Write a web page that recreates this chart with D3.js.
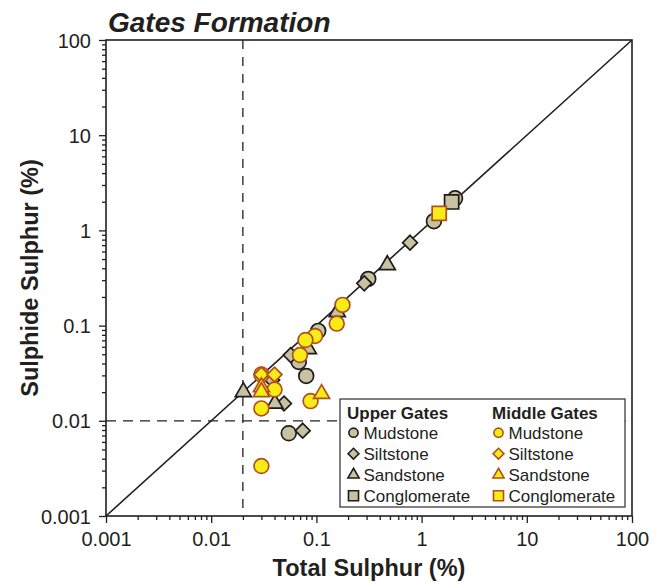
<!DOCTYPE html>
<html>
<head>
<meta charset="utf-8">
<script src="https://cdn.jsdelivr.net/npm/d3@7/dist/d3.min.js"></script>
<style>
  html, body { margin: 0; padding: 0; background: #fff; }
  svg { display: block; font-family: "Liberation Sans", Arial, Helvetica, sans-serif; }
</style>
</head>
<body>
<svg id="chart" width="656" height="583"></svg>
<script>
// Total sulphur vs sulphide sulphur, each sample as [total %, sulphide %]
const upperMudstone = [[2.08, 2.17], [1.31, 1.25], [0.311, 0.309], [0.104, 0.088], [0.068, 0.0415], [0.08, 0.0296], [0.0546, 0.0074]];
const upperSiltstone = [[0.776, 0.743], [0.285, 0.278], [0.057, 0.049], [0.038, 0.0268], [0.0492, 0.0152], [0.0741, 0.00787]];
const upperSandstone = [[0.472, 0.433], [0.158, 0.139], [0.0838, 0.0568], [0.0202, 0.0201], [0.0403, 0.0152]];
const upperConglomerate = [[1.93, 1.99]];

const middleMudstone = [[0.177, 0.165], [0.156, 0.105], [0.097, 0.0778], [0.0787, 0.0706], [0.0698, 0.0491], [0.03, 0.0306], [0.04, 0.0213], [0.03, 0.0135], [0.088, 0.0161], [0.03, 0.00335]];
const middleSiltstone = [[0.03, 0.0306], [0.04, 0.0306]];
const middleSandstone = [[0.03, 0.0226], [0.03, 0.0201], [0.112, 0.0192]];
const middleConglomerate = [[1.47, 1.51]];

const majorTicks = [0.001, 0.01, 0.1, 1, 10, 100];
const tickLabels = ["0.001", "0.01", "0.1", "1", "10", "100"];
const lithologies = ["Mudstone", "Siltstone", "Sandstone", "Conglomerate"];
const groups = ["Upper Gates", "Middle Gates"];
const detectionTotal = 0.02;
const detectionSulphide = 0.01;

const ink = "#231f20";
const groupStyle = {
  "Upper Gates": { fill: "#c8c1a2", stroke: "#1e1c1a" },
  "Middle Gates": { fill: "#f8ec16", stroke: "#b0501c" }
};
const seriesByGroup = {
  "Upper Gates": [upperMudstone, upperSiltstone, upperSandstone, upperConglomerate],
  "Middle Gates": [middleMudstone, middleSiltstone, middleSandstone, middleConglomerate]
};

const svg = d3.select("#chart");
const plot = { left: 106, right: 632, top: 40, bottom: 516 };

const x = d3.scaleLog().domain([0.001, 100]).range([plot.left, plot.right]);
const y = d3.scaleLog().domain([0.001, 100]).range([plot.bottom, plot.top]);

// marker path for a lithology, r = nominal half-width
function markerPath(lith, r) {
  if (lith === "Mudstone") return d3.symbol(d3.symbolCircle, Math.PI * r * r)();
  if (lith === "Siltstone") {
    const s = r; // half diagonal
    return `M0,${-s}L${s},0L0,${s}L${-s},0Z`;
  }
  if (lith === "Sandstone") {
    const w = r; // half width
    const k = w / Math.sqrt(3);
    return `M0,${-2 * k}L${w},${k}L${-w},${k}Z`;
  }
  const h = r * 0.93;
  return `M${-h},${-h}H${h}V${h}H${-h}Z`;
}

// all ticks 1..9 within each decade
const allTicks = [];
for (let e = -3; e <= 2; e++) {
  for (let m = 1; m <= 9; m++) {
    const v = +(m * Math.pow(10, e)).toPrecision(3);
    if (v <= 100) allTicks.push(v);
  }
}
const isMajor = v => majorTicks.some(t => Math.abs(t - v) / t < 1e-6);
const labelFor = v => tickLabels[majorTicks.findIndex(t => Math.abs(t - v) / t < 1e-6)];

// x axis
const xAxis = svg.append("g")
  .attr("transform", `translate(0,${plot.bottom})`)
  .call(d3.axisBottom(x).tickValues(allTicks).tickSizeOuter(0).tickSize(4)
    .tickFormat(d => isMajor(d) ? labelFor(d) : ""));
xAxis.select(".domain").remove();
xAxis.selectAll(".tick line").attr("stroke", ink).attr("stroke-width", 1.3)
  .attr("y2", d => isMajor(d) ? 7 : 4);
xAxis.selectAll(".tick text").attr("fill", ink).attr("font-size", 20)
  .attr("font-family", "Liberation Sans, Arial, sans-serif")
  .attr("y", 29.7).attr("dy", null);

// y axis
const yAxis = svg.append("g")
  .attr("transform", `translate(${plot.left},0)`)
  .call(d3.axisLeft(y).tickValues(allTicks).tickSizeOuter(0).tickSize(4)
    .tickFormat(d => isMajor(d) ? labelFor(d) : ""));
yAxis.select(".domain").remove();
yAxis.selectAll(".tick line").attr("stroke", ink).attr("stroke-width", 1.3)
  .attr("x2", d => isMajor(d) ? -7 : -4);
yAxis.selectAll(".tick text").attr("fill", ink).attr("font-size", 20)
  .attr("font-family", "Liberation Sans, Arial, sans-serif")
  .attr("x", -15).attr("dy", "0.35em");

// dashed detection limits
svg.append("line")
  .attr("x1", x(detectionTotal)).attr("x2", x(detectionTotal))
  .attr("y1", plot.top).attr("y2", plot.bottom)
  .attr("stroke", ink).attr("stroke-width", 1.3).attr("stroke-dasharray", "9,8");
svg.append("line")
  .attr("x1", plot.left).attr("x2", plot.right)
  .attr("y1", y(detectionSulphide)).attr("y2", y(detectionSulphide))
  .attr("stroke", ink).attr("stroke-width", 1.3).attr("stroke-dasharray", "10,7");

// 1:1 line
svg.append("line")
  .attr("x1", x(0.001)).attr("y1", y(0.001))
  .attr("x2", x(100)).attr("y2", y(100))
  .attr("stroke", ink).attr("stroke-width", 1.6);

// plot frame
svg.append("rect")
  .attr("x", plot.left).attr("y", plot.top)
  .attr("width", plot.right - plot.left).attr("height", plot.bottom - plot.top)
  .attr("fill", "none").attr("stroke", ink).attr("stroke-width", 1.6);

// sample markers: Upper Gates beneath, Middle Gates above
const markerSize = { Mudstone: 7.4, Siltstone: 7.4, Sandstone: 8, Conglomerate: 7.6 };
groups.forEach(g => {
  const st = groupStyle[g];
  seriesByGroup[g].forEach((series, i) => {
    const lith = lithologies[i];
    svg.append("g").selectAll("path").data(series).join("path")
      .attr("d", markerPath(lith, markerSize[lith]))
      .attr("transform", d => `translate(${x(d[0])},${y(d[1])})`)
      .attr("fill", st.fill).attr("stroke", st.stroke).attr("stroke-width", 1.7);
  });
});

// legend
const legend = svg.append("g");
legend.append("rect")
  .attr("x", 340).attr("y", 399).attr("width", 285).attr("height", 108)
  .attr("fill", "#fff").attr("stroke", "#4a4a4a").attr("stroke-width", 1.4);
const colX = { "Upper Gates": 347, "Middle Gates": 492 };
const rowY = [439, 460, 481, 502];
groups.forEach(g => {
  const st = groupStyle[g];
  legend.append("text")
    .attr("x", colX[g]).attr("y", 419)
    .attr("font-size", 17).attr("font-weight", "bold").attr("fill", ink)
    .text(g);
  lithologies.forEach((lith, i) => {
    const sz = { Mudstone: 4.6, Siltstone: 5.4, Sandstone: 5.6, Conglomerate: 5.4 }[lith];
    legend.append("path")
      .attr("d", markerPath(lith, sz))
      .attr("transform", `translate(${colX[g] + 6.5},${rowY[i] - 6.3})`)
      .attr("fill", st.fill).attr("stroke", st.stroke).attr("stroke-width", 1.6);
    legend.append("text")
      .attr("x", colX[g] + 16.5).attr("y", rowY[i])
      .attr("font-size", 17).attr("fill", ink)
      .text(lith);
  });
});

// titles
svg.append("text")
  .attr("x", 108).attr("y", 32)
  .attr("font-size", 28).attr("font-weight", "bold").attr("font-style", "italic")
  .attr("fill", ink)
  .text("Gates Formation");
svg.append("text")
  .attr("x", (plot.left + plot.right) / 2).attr("y", 576)
  .attr("text-anchor", "middle")
  .attr("font-size", 23.5).attr("font-weight", "bold").attr("fill", ink)
  .text("Total Sulphur (%)");
svg.append("text")
  .attr("transform", `translate(38,${(plot.top + plot.bottom) / 2}) rotate(-90)`)
  .attr("text-anchor", "middle")
  .attr("font-size", 23.5).attr("font-weight", "bold").attr("fill", ink)
  .text("Sulphide Sulphur (%)");
</script>
</body>
</html>
